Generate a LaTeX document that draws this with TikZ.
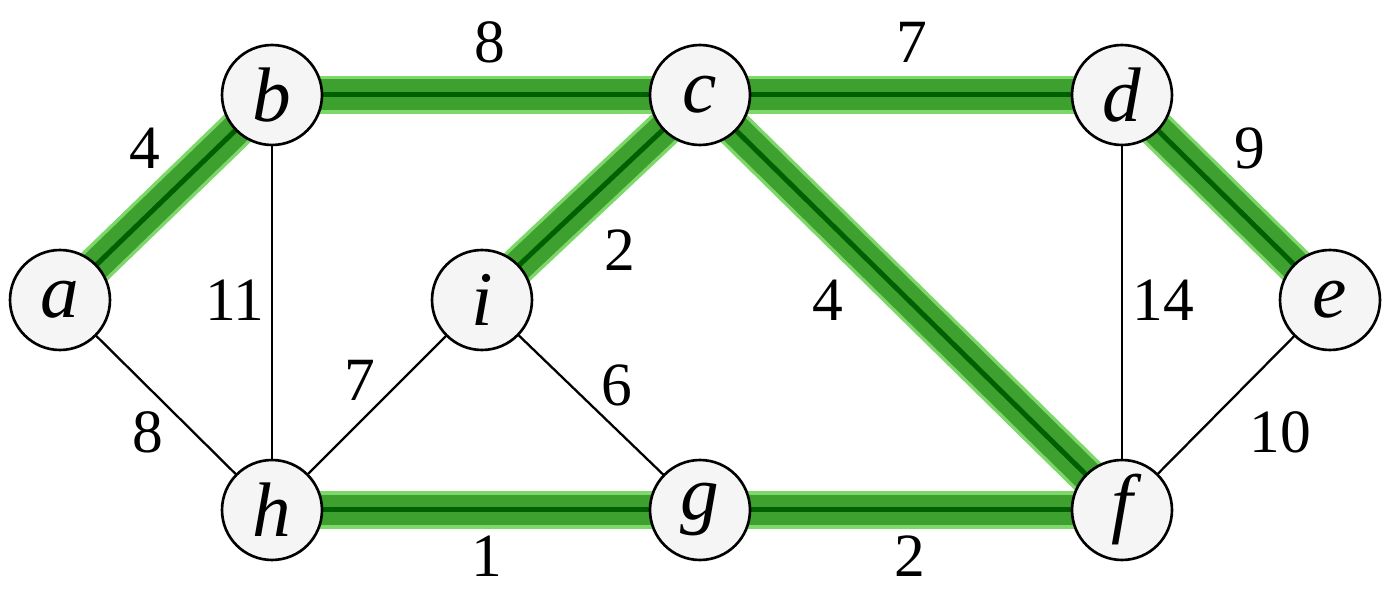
\documentclass[tikz,border=0pt]{standalone}
\usepackage{fontspec}
\setmainfont{Liberation Serif}
\usetikzlibrary{backgrounds}
\definecolor{bandlight}{RGB}{125,215,105}
\definecolor{bandmid}{RGB}{62,160,46}
\definecolor{banddark}{RGB}{0,95,0}
\begin{document}
\begin{tikzpicture}[x=0.02cm,y=0.02cm,
    vtx/.style={circle,draw,line width=1.5pt,fill=black!4,minimum size=2cm,inner sep=0pt,font=\fontsize{44}{48}\selectfont\itshape},
    wt/.style={inner sep=1pt,font=\fontsize{35}{38}\selectfont}]
  \useasboundingbox (0,0) rectangle (1387,592);
  % vertices
  \foreach \x/\y/\v in {60/292/a,272/497/b,700/497/c,1122/497/d,1330/292/e,482/292/i,272/82/h,700/82/g,1122/82/f}
    \node[vtx] (\v) at (\x,\y) {\v};
  % edges
  \begin{scope}[on background layer]
    \foreach \p/\q in {a/b,b/c,c/d,d/e,c/i,c/f,h/g,g/f}{
      \draw[line width=0.76cm,bandlight] (\p.center)--(\q.center);
      \draw[line width=0.62cm,bandmid] (\p.center)--(\q.center);
      \draw[line width=0.1cm,banddark] (\p.center)--(\q.center);}
    \foreach \p/\q in {a/h,b/h,h/i,i/g,d/f,e/f}\draw[line width=1.3pt] (\p.center)--(\q.center);
  \end{scope}
  % weights
  \foreach \x/\y/\w[count=\k] in {145/444/4,490/550/8,912/550/7,1250/444/9,235/292/11,620/342/2,828/292/4,1163/292/14,360/212/7,617/207/6,148/160/8,1280/160/10,487/36/1,910/36/2}
    \node[wt] (w\k) at (\x,\y) {\w};
\end{tikzpicture}
\end{document}
